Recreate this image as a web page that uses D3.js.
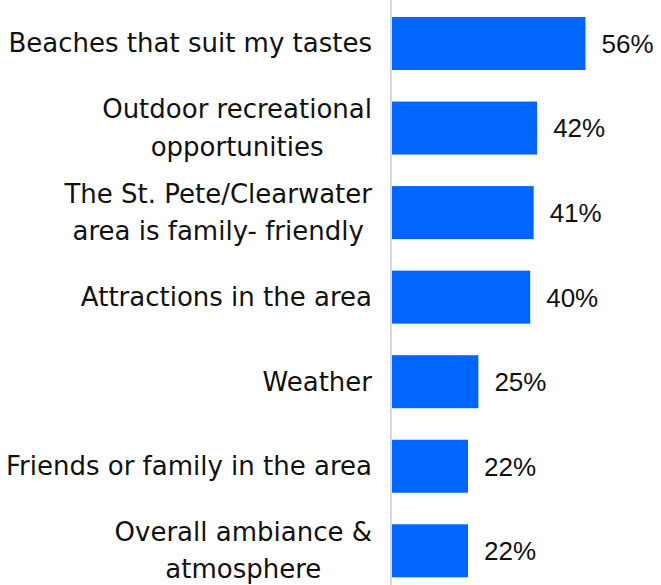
<!DOCTYPE html>
<html>
<head>
<meta charset="utf-8">
<script src="https://cdn.jsdelivr.net/npm/d3@7"></script>
<style>
  html, body { margin: 0; padding: 0; background: #fff; }
  svg { display: block; }
  text { fill: #111; }
  .cat { font-family: "DejaVu Sans", sans-serif; font-size: 26px; }
  .val { font-family: "Liberation Sans", Arial, sans-serif; font-size: 26px; }
</style>
</head>
<body>
<div id="chart"></div>
<script>
// Reasons for choosing St. Pete/Clearwater (share of respondents)
const categories = [
  ["Beaches that suit my tastes"],
  ["Outdoor recreational", "opportunities"],
  ["The St. Pete/Clearwater", "area is family- friendly"],
  ["Attractions in the area"],
  ["Weather"],
  ["Friends or family in the area"],
  ["Overall ambiance &", "atmosphere"]
];
const values = [56, 42, 41, 40, 25, 22, 22];

const width = 661, height = 585;
const axisX = 391;
const labelRight = 372;

const svg = d3.select("#chart").append("svg")
  .attr("width", width).attr("height", height);

const x = d3.scaleLinear().domain([0, 56]).range([axisX + 1, 585.5]);
const y = d3.scaleBand()
  .domain(d3.range(categories.length))
  .range([17, 577.3])
  .paddingInner(0.373)
  .paddingOuter(0);

// bars
svg.append("g").selectAll("rect")
  .data(values)
  .join("rect")
  .attr("x", x(0))
  .attr("y", (d, i) => y(i))
  .attr("width", d => x(d) - x(0))
  .attr("height", y.bandwidth())
  .attr("fill", "#0066ff");

// vertical baseline
svg.append("line")
  .attr("x1", axisX).attr("x2", axisX)
  .attr("y1", 0).attr("y2", height)
  .attr("stroke", "#dadada").attr("stroke-width", 2);

// value labels
svg.append("g").selectAll("text")
  .data(values)
  .join("text")
  .attr("class", "val")
  .attr("x", d => x(d) + 16)
  .attr("y", (d, i) => y(i) + y.bandwidth() / 2)
  .attr("dy", "0.36em")
  .text(d => d + "%");

// category labels: lines centred on each other, block right-aligned
const lineH = 37.5;
const groups = svg.append("g").selectAll("g")
  .data(categories)
  .join("g");

groups.each(function(lines, i) {
  const g = d3.select(this);
  const cy = y(i) + y.bandwidth() / 2;
  const texts = lines.map((ln, j) => g.append("text")
    .attr("class", "cat")
    .attr("text-anchor", "middle")
    .attr("y", cy + (j - (lines.length - 1) / 2) * lineH)
    .attr("dy", "0.34em")
    .text(ln));
  const maxW = d3.max(texts, t => t.node().getComputedTextLength());
  texts.forEach(t => t.attr("x", labelRight - maxW / 2));
});
</script>
</body>
</html>
